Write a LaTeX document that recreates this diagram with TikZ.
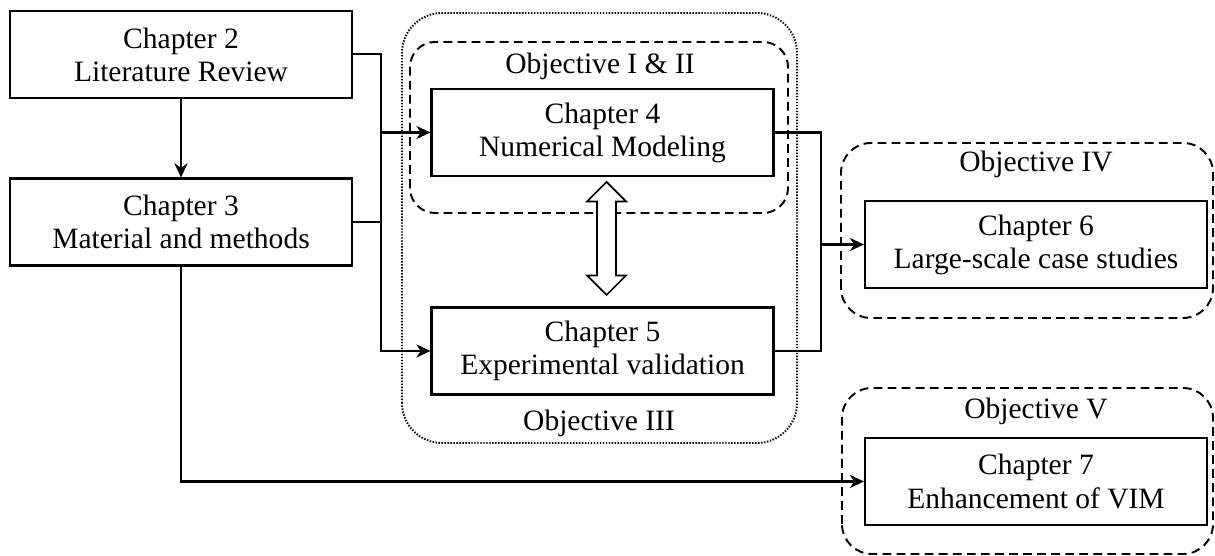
\documentclass[tikz,border=0pt]{standalone}
\usepackage{fontspec}
\setmainfont{Liberation Serif}
\usepackage{tikz}
\usetikzlibrary{shapes, arrows.meta, positioning}
\tikzstyle{block} = [rectangle, minimum width=6.84cm, minimum height=1.74cm, text centered, align=center, draw=black, line width=1.25pt, fill=white]
\tikzstyle{arrow} = [-{Stealth[length=8pt, width=7.5pt, inset=2.5pt]}, line width=1.15pt]
\tikzstyle{line} = [line width=1.15pt]
\tikzstyle{objframe} = [draw=black, line width=1.1pt, dash pattern=on 5pt off 3pt]
\tikzstyle{groupframe} = [draw=black, line width=1.1pt, dash pattern=on 0.8pt off 0.9pt]
\tikzstyle{objlabel} = [inner sep=0pt]

\begin{document}
\begin{tikzpicture}[font=\fontsize{16.8}{18.8}\selectfont]

    \useasboundingbox (0, 0) rectangle (24.3, 11.12);

    % objective frames
    \draw [groupframe, rounded corners=0.8cm] (8.04, 2.26) rectangle (15.94, 10.86);
    \draw [objframe, rounded corners=0.5cm] (8.2, 6.86) rectangle (15.76, 10.28);
    \draw [objframe, rounded corners=0.6cm] (16.82, 4.76) rectangle (24.26, 8.26);
    \draw [objframe, rounded corners=0.6cm] (16.84, 0.04) rectangle (24.26, 3.36);

    \node (obj12) [objlabel] at (12.0, 9.8) {Objective I \& II};
    \node (obj3) [objlabel] at (11.98, 2.66) {Objective III};
    \node (obj4) [objlabel] at (20.72, 7.84) {Objective IV};
    \node (obj5) [objlabel] at (20.72, 2.9) {Objective V};

    % chapters
    \node (ch2) [block] at (3.62, 10.03) {Chapter 2\\Literature Review};
    \node (ch3) [block] at (3.62, 6.68) {Chapter 3\\Material and methods};
    \node (ch4) [block] at (12.05, 8.47) {Chapter 4\\Numerical Modeling};
    \node (ch5) [block] at (12.05, 4.10) {Chapter 5\\Experimental validation};
    \node (ch6) [block] at (20.72, 6.23) {Chapter 6\\Large-scale case studies};
    \node (ch7) [block] at (20.72, 1.49) {Chapter 7\\Enhancement of VIM};

    % hollow two-way arrow between chapter 4 and 5
    \coordinate (link45) at (12.13, 6.35);
    \draw [line width=1pt, fill=white] (link45) ++(0, 1.13) -- ++(0.39, -0.39) -- ++(-0.2, 0)
        -- ++(0, -1.48) -- ++(0.2, 0) -- ++(-0.39, -0.39) -- ++(-0.39, 0.39) -- ++(0.2, 0)
        -- ++(0, 1.48) -- ++(-0.2, 0) -- cycle;

    % connectors
    \draw [arrow] (ch2) -- (ch3);
    \draw [arrow] (ch2.east) -- ++(0.56, 0) |- (ch5.west);
    \draw [arrow] (ch3.east) -- ++(0.56, 0) |- (ch4.west);
    \draw [arrow] (ch3.south) |- (ch7.west);

    \draw [line] (ch4.east) -- ++(0.92, 0) |- (ch5.east);
    \path (ch4.east) -- ++(0.92, 0) coordinate (rbus);
    \draw [arrow] (rbus |- ch6.west) -- (ch6.west);

\end{tikzpicture}
\end{document}
